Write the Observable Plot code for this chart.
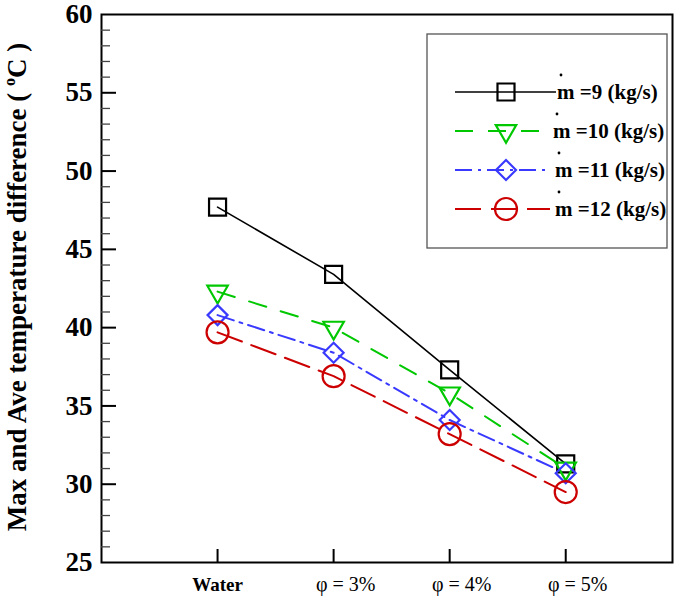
<!DOCTYPE html>
<html><head><meta charset="utf-8">
<script src="https://cdn.jsdelivr.net/npm/d3@7"></script>
<script src="https://cdn.jsdelivr.net/npm/@observablehq/plot@0.6"></script>
<style>body{margin:0;background:#fff}#chart svg{display:block}</style>
</head><body><div id="chart"></div>
<script>
// ---- data ----
const categories = ["Water", "φ = 3%", "φ = 4%", "φ = 5%"];
const seriesNames = ["m =9 (kg/s)", "m =10 (kg/s)", "m =11 (kg/s)", "m =12 (kg/s)"];
const m9  = [47.7, 43.4, 37.3, 31.3];
const m10 = [42.3, 40.0, 35.8, 31.0];
const m11 = [40.8, 38.4, 34.1, 30.7];
const m12 = [39.7, 36.9, 33.2, 29.5];
const yTicks = [25, 30, 35, 40, 45, 50, 55, 60];
const yMinorTicks = [26,27,28,29,31,32,33,34,36,37,38,39,41,42,43,44,46,47,48,49,51,52,53,54,56,57,58,59];

// ---- styles ----
const styles = [
  {color: "#000000", dash: null,        width: 1.6, symbol: "square",   r: 9.6, rotate: 0},
  {color: "#00c800", dash: "18,15",     width: 2,   symbol: "triangle", r: 7.6, rotate: 180},
  {color: "#3a3aff", dash: "17,6,3,6",  width: 2,   symbol: "diamond2", r: 9.0, rotate: 0},
  {color: "#cc0000", dash: "26,10",     width: 2,   symbol: "circle",   r: 11,  rotate: 0}
];
const seriesValues = [m9, m10, m11, m12];
const rows = seriesValues.map((vals, s) => categories.map((c, i) => ({series: s, idx: i + 1, value: vals[i]})));

const serif = '"Liberation Serif", Tinos, "Times New Roman", Times, "Nimbus Roman", "DejaVu Serif", serif';
const W = 685, H = 597, mL = 101, mR = 13, mT = 14, mB = 35;
const xMax = 4.92;
const pxPerX = (W - mL - mR) / xMax;
const pxPerY = (H - mT - mB) / 35;

const marks = [
  Plot.frame({stroke: "black", strokeWidth: 2}),
  Plot.ruleY(yTicks.slice(1, -1), {y: d => d, x1: () => 0, x2: () => 15 / pxPerX, stroke: "black", strokeWidth: 2}),
  Plot.ruleY(yMinorTicks, {y: d => d, x1: () => 0, x2: () => 9 / pxPerX, stroke: "#444", strokeWidth: 1.3}),
  Plot.ruleX(categories, {x: d => categories.indexOf(d) + 1, y1: () => 25, y2: () => 25 + 13 / pxPerY, stroke: "black", strokeWidth: 2}),
  Plot.axisY({ticks: yTicks, tickSize: 0, tickPadding: 9, fontSize: 27, fontWeight: "bold", fontFamily: serif, label: null}),
  Plot.text(categories.slice(0, 1), {x: d => categories.indexOf(d) + 1, y: () => 25, dy: 22, text: d => d, fontSize: 19, fontWeight: "bold", fontFamily: serif, fill: "black"}),
  Plot.text(categories.slice(1), {x: d => categories.indexOf(d) + 1, y: () => 25, dy: 22, dx: 12, text: d => d, fontSize: 20, fontFamily: serif, fill: "black"})
];
rows.forEach((data, s) => {
  const st = styles[s];
  marks.push(Plot.line(data, {x: "idx", y: "value", stroke: st.color, strokeWidth: st.width, strokeDasharray: st.dash}));
});
rows.forEach((data, s) => {
  const st = styles[s];
  marks.push(Plot.dot(data, {x: "idx", y: "value", stroke: st.color, fill: "none", strokeWidth: 2.2, symbol: st.symbol, r: st.r, rotate: st.rotate}));
});

const chart = Plot.plot({
  width: W, height: H,
  marginLeft: mL, marginRight: mR, marginTop: mT, marginBottom: mB,
  style: {fontFamily: serif, background: "white", overflow: "visible"},
  x: {domain: [0, xMax], axis: null},
  y: {domain: [25, 60]},
  marks
});
document.getElementById("chart").appendChild(chart);

// ---- y-axis title and legend ----
const svg = d3.select(chart);
const yl = svg.append("text")
  .attr("transform", "translate(20,287) rotate(-90)")
  .attr("text-anchor", "middle")
  .attr("dominant-baseline", "middle")
  .style("font-family", serif).style("font-size", "27px").style("font-weight", "bold")
  .attr("fill", "black");
yl.append("tspan").text("Max and Ave temperature difference ( ");
yl.append("tspan").attr("dy", -9).style("font-size", "16px").text("o");
yl.append("tspan").attr("dy", 9).text("C )");

const lg = svg.append("g");
lg.append("rect").attr("x", 427).attr("y", 34).attr("width", 240).attr("height", 214)
  .attr("fill", "white").attr("stroke", "#555").attr("stroke-width", 1.3);
const rowY = [92, 131, 170, 209];
const textX = [557, 553, 555, 555];
const symMap = {square: d3.symbolSquare, triangle: d3.symbolTriangle, diamond2: d3.symbolDiamond2, circle: d3.symbolCircle};
seriesNames.forEach((name, s) => {
  const st = styles[s], y = rowY[s];
  lg.append("line").attr("x1", 455).attr("x2", s === 0 ? 556 : 550).attr("y1", y).attr("y2", y)
    .attr("stroke", st.color).attr("stroke-width", st.width).attr("stroke-dasharray", st.dash);
  lg.append("path").attr("d", d3.symbol(symMap[st.symbol], Math.PI * st.r * st.r)())
    .attr("transform", `translate(506,${y}) rotate(${st.rotate})`)
    .attr("fill", "none").attr("stroke", st.color).attr("stroke-width", 2.2);
  lg.append("circle").attr("cx", textX[s] + 4).attr("cy", y - 17).attr("r", 1.4).attr("fill", "black");
  lg.append("text").attr("x", textX[s]).attr("y", y + 7).attr("text-anchor", "start")
    .style("font-family", serif).style("font-size", "21px").style("font-weight", "bold")
    .attr("fill", "black").text(name);
});
</script>
</body></html>
